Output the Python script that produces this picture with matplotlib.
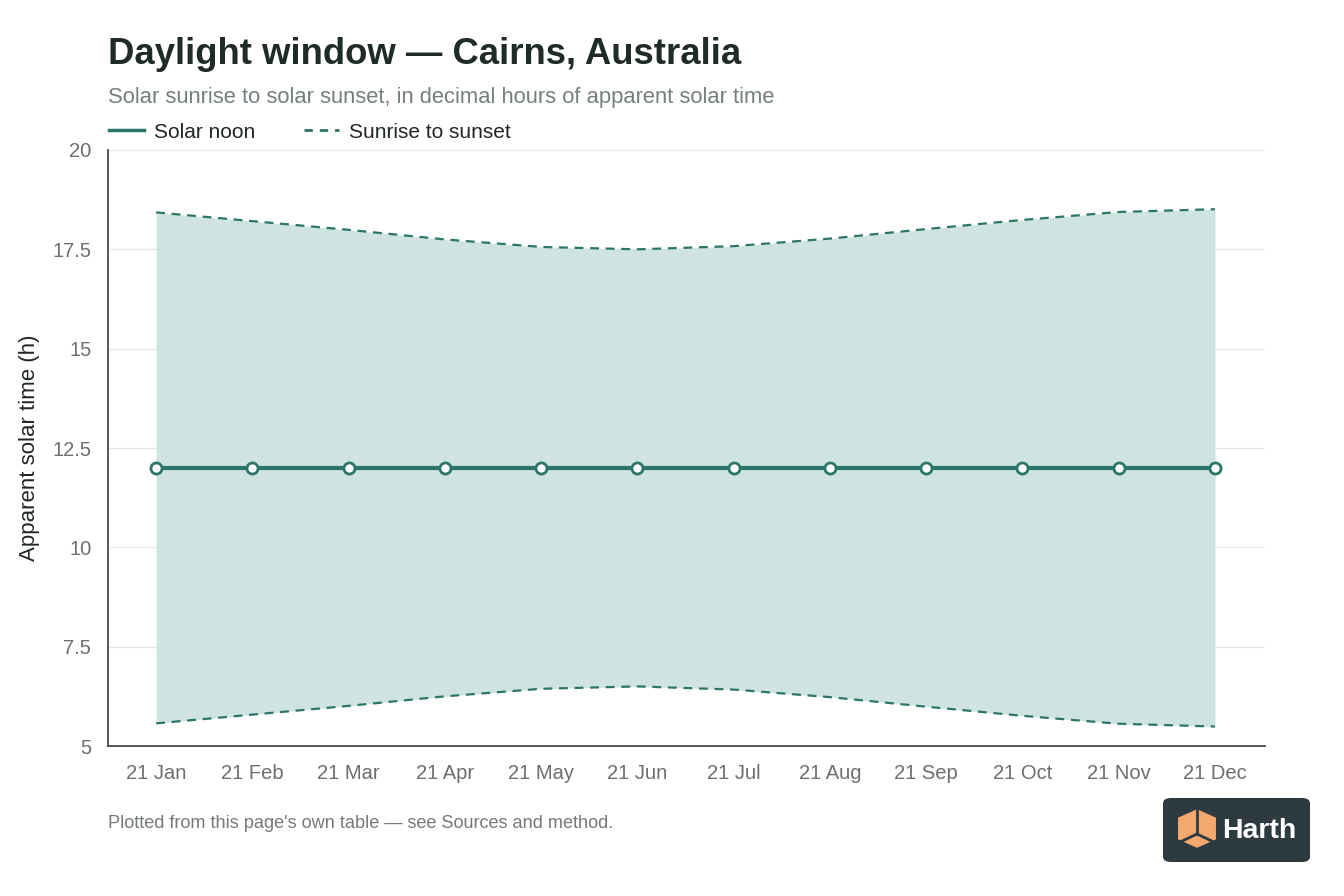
import matplotlib
matplotlib.use("Agg")
import matplotlib.pyplot as plt
from matplotlib.patches import FancyBboxPatch, Polygon
from matplotlib.lines import Line2D

plt.rcParams['font.family'] = ['Liberation Sans', 'DejaVu Sans']

months = ["21 Jan", "21 Feb", "21 Mar", "21 Apr", "21 May", "21 Jun",
          "21 Jul", "21 Aug", "21 Sep", "21 Oct", "21 Nov", "21 Dec"]
solar_noon = [12, 12, 12, 12, 12, 12, 12, 12, 12, 12, 12, 12]
sunset = [18.43, 18.21, 17.99, 17.75, 17.56, 17.50, 17.58, 17.77, 18.01, 18.24, 18.44, 18.51]
sunrise = [5.57, 5.79, 6.01, 6.25, 6.44, 6.50, 6.42, 6.23, 5.99, 5.76, 5.56, 5.49]
yticks = [5, 7.5, 10, 12.5, 15, 17.5, 20]
ytick_labels = ["5", "7.5", "10", "12.5", "15", "17.5", "20"]

teal = "#2b7569"
fill_c = "#cfe4e0"

fig = plt.figure(figsize=(13.44, 8.96), dpi=100)
ax = fig.add_axes([108/1344, 1-746/896, (1265-108)/1344, (746-150)/896])

x = list(range(len(months)))
ax.fill_between(x, sunrise, sunset, color=fill_c, linewidth=0, zorder=1)
ax.plot(x, sunset, color=teal, lw=1.6, ls=(0, (4, 3)), zorder=3)
ax.plot(x, sunrise, color=teal, lw=1.6, ls=(0, (4, 3)), zorder=3)
ax.plot(x, solar_noon, color=teal, lw=3, marker='o', ms=8, mfc='white',
        mec=teal, mew=2, zorder=4)

ax.set_xlim(-0.5, 11.52)
ax.set_ylim(5, 20)
ax.set_yticks(yticks)
ax.set_yticklabels(ytick_labels)
ax.set_xticks(x)
ax.set_xticklabels(months)
ax.tick_params(axis='both', length=0, labelsize=14.5, colors="#6b6f6e")
ax.tick_params(axis='x', pad=13)
ax.tick_params(axis='y', pad=12)
ax.grid(axis='y', color="#e6e8e8", lw=1, zorder=0)
ax.set_axisbelow(True)
for s in ['top', 'right']:
    ax.spines[s].set_visible(False)
for s in ['left', 'bottom']:
    ax.spines[s].set_color("#4a4a4a")
    ax.spines[s].set_linewidth(1.3)
ax.set_ylabel("Apparent solar time (h)", fontsize=16, color="#1f2624")
ax.yaxis.set_label_coords(-68/1157, 0.5)

fig.text(108/1344, 1-64/896, "Daylight window — Cairns, Australia", fontsize=26.3,
         fontweight='bold', color="#1f2b28", ha='left', va='baseline')
fig.text(108/1344, 1-103/896, "Solar sunrise to solar sunset, in decimal hours of apparent solar time",
         fontsize=15.8, color="#74807d", ha='left', va='baseline')

handles = [Line2D([], [], color=teal, lw=2.5),
           Line2D([], [], color=teal, lw=2, ls=(0, (3, 2.5)))]
fig.legend(handles, ["Solar noon", "Sunrise to sunset"], loc='center left',
           bbox_to_anchor=(109/1344, 1-132/896), ncol=2, frameon=False, borderpad=0,
           borderaxespad=0, fontsize=15, handlelength=1.7, handletextpad=0.45,
           columnspacing=2.35, labelcolor="#1f2624")

fig.text(108/1344, 1-828/896, "Plotted from this page's own table — see Sources and method.",
         fontsize=13.1, color="#737a78", ha='left', va='baseline')

# logo
lx0, ly0, lw_, lh_ = 1163/1344, 1-862/896, 147/1344, 64/896
fig.patches.append(FancyBboxPatch((lx0, ly0), lw_, lh_, boxstyle="round,pad=0,rounding_size=0.006",
                                  transform=fig.transFigure, facecolor="#2d3a40", edgecolor="none"))
def P(px, py):
    return (px/1344, 1-py/896)
cube = [P(1177, 817), P(1197, 808), P(1217, 817), P(1217, 840), P(1197, 849), P(1177, 840)]
fig.patches.append(Polygon(cube, closed=True, transform=fig.transFigure,
                           facecolor="#f4a86e", edgecolor="#2d3a40", lw=1.5))
for seg in [[P(1197, 809), P(1197, 834)], [P(1197, 834), P(1178, 843)], [P(1197, 834), P(1216, 843)]]:
    fig.lines.append(Line2D([seg[0][0], seg[1][0]], [seg[0][1], seg[1][1]],
                            transform=fig.transFigure, color="#2d3a40", lw=2))
fig.text(1222/1344, 1-831/896, "Harth", fontsize=20.5, fontweight='bold', color="white",
         ha='left', va='center')

fig.savefig("out.png", dpi=100)
